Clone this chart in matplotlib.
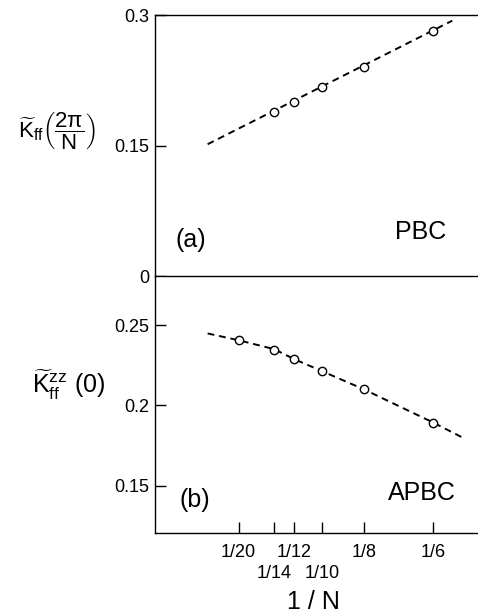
import matplotlib
matplotlib.use('Agg')
from matplotlib import pyplot as plt

plt.rcParams['font.family'] = ['Liberation Sans', 'DejaVu Sans']
plt.rcParams['mathtext.fontset'] = 'custom'
plt.rcParams['mathtext.rm'] = 'Liberation Sans'
plt.rcParams['mathtext.it'] = 'Liberation Sans'

# 1/N values
pbc_x = [1/14, 1/12, 1/10, 1/8, 1/6]
pbc_y = [0.189, 0.200, 0.217, 0.240, 0.282]
pbc_fit_x = [0.0315, 0.178]
pbc_fit_y = [0.1515, 0.2935]

apbc_x = [1/20, 1/14, 1/12, 1/10, 1/8, 1/6]
apbc_y = [0.2406, 0.2348, 0.2286, 0.2213, 0.2100, 0.1892]
apbc_fit_x = [0.0315, 0.05, 0.0714, 0.0833, 0.1, 0.125, 0.1667, 0.1836]
apbc_fit_y = [0.2448, 0.2406, 0.2350, 0.2288, 0.2213, 0.2100, 0.1892, 0.1802]

# staggered tick labels: upper row on major ticks, lower row on minor ticks
xtick_upper = [1/20, 1/12, 1/8, 1/6]
xtick_upper_labels = ['1/20', '1/12', '1/8', '1/6']
xtick_lower = [1/14, 1/10]
xtick_lower_labels = ['1/14', '1/10']

fig = plt.figure(figsize=(4.78, 6.16), dpi=100)
ax1 = fig.add_axes([0.3243, 0.5519, 0.6757, 0.4237])
ax2 = fig.add_axes([0.3243, 0.1347, 0.6757, 0.4172])

for ax in (ax1, ax2):
    ax.set_xlim(0, 0.1934)
    ax.spines['right'].set_visible(False)
    for s in ax.spines.values():
        s.set_linewidth(1.0)
    ax.tick_params(which='both', direction='in', length=8, width=1, labelsize=13, pad=4)

ax1.plot(pbc_fit_x, pbc_fit_y, ls=(0, (3.5, 2.5)), color='black', lw=1.4)
ax1.plot(pbc_x, pbc_y, 'o', mfc='white', mec='black', ms=6, mew=1)
ax1.set_ylim(0, 0.3)
ax1.set_yticks([0, 0.15, 0.3], ['0', '0.15', '0.3'])
ax1.set_xticks([])
ax1.spines['bottom'].set_visible(False)
ax1.text(0.062, 0.138, '(a)', transform=ax1.transAxes, fontsize=18, va='center')
ax1.text(0.743, 0.169, 'PBC', transform=ax1.transAxes, fontsize=18, va='center')
ax1.text(-0.424, 0.559, r'$\widetilde{\mathrm{K}}_{\mathrm{ff}}\left(\dfrac{2\pi}{\mathrm{N}}\right)$',
         transform=ax1.transAxes, fontsize=16, va='center', ha='left')

ax2.plot(apbc_fit_x, apbc_fit_y, ls=(0, (3.5, 2.5)), color='black', lw=1.4)
ax2.plot(apbc_x, apbc_y, 'o', mfc='white', mec='black', ms=6, mew=1)
ax2.set_ylim(0.1204, 0.2806)
ax2.set_yticks([0.15, 0.2, 0.25], ['0.15', '0.2', '0.25'])
ax2.set_xticks(xtick_upper, xtick_upper_labels)
ax2.set_xticks(xtick_lower, xtick_lower_labels, minor=True)
ax2.tick_params(axis='x', which='major', labelsize=13, pad=8)
ax2.tick_params(axis='x', which='minor', labelsize=13, pad=23)
ax2.set_xlabel('1 / N', fontsize=18, labelpad=6, x=0.49)
ax2.text(0.077, 0.128, '(b)', transform=ax2.transAxes, fontsize=18, va='center')
ax2.text(0.721, 0.154, 'APBC', transform=ax2.transAxes, fontsize=18, va='center')
ax2.text(-0.381, 0.576, r'$\widetilde{\mathrm{K}}_{\mathrm{ff}}^{\mathrm{zz}}\ (0)$',
         transform=ax2.transAxes, fontsize=18, va='center', ha='left')

fig.savefig('out.png', dpi=100)
